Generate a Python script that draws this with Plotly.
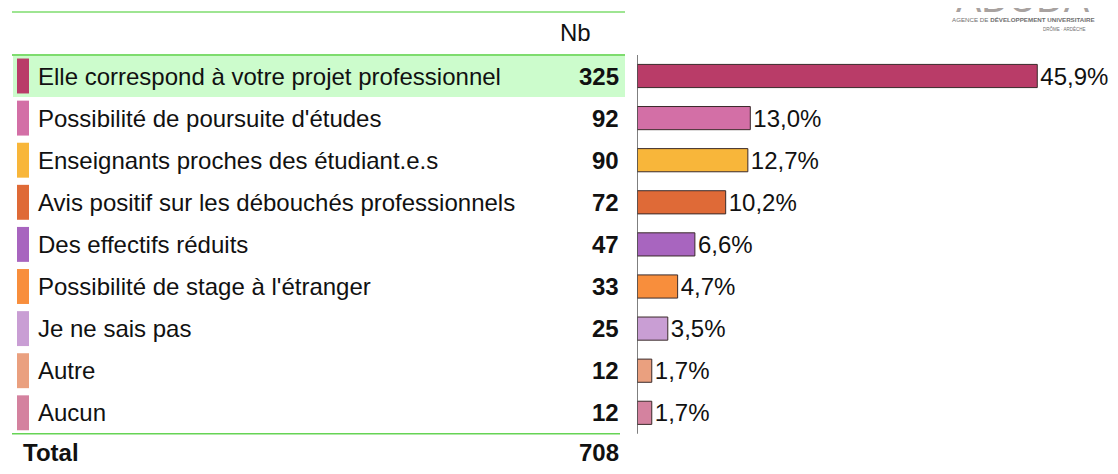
import plotly.graph_objects as go

categories = [
    "Elle correspond à votre projet professionnel",
    "Possibilité de poursuite d'études",
    "Enseignants proches des étudiant.e.s",
    "Avis positif sur les débouchés professionnels",
    "Des effectifs réduits",
    "Possibilité de stage à l'étranger",
    "Je ne sais pas",
    "Autre",
    "Aucun",
]
counts = [325, 92, 90, 72, 47, 33, 25, 12, 12]
total = 708
colors = ["#B93C68", "#D36FA6", "#F8B63A", "#DF6A37", "#A865BF",
          "#F88E3C", "#C99ED4", "#EAA07F", "#D4829F"]
pct = [c / total * 100 for c in counts]

OFF = 8  # page body margin
W, H = 1118 - 2 * OFF, 474 - 2 * OFF
FONT = "Arial, Liberation Sans, Helvetica, sans-serif"
FS = 24
row0, step = 76 - OFF, 42.1

def px(x):
    return (x - OFF) / W

def py(y):
    return 1 - (y - OFF) / H

y_lo = (H - row0) / step
y_hi = -row0 / step
bar_x0 = 637
scale = 8.72

fig = go.Figure()
fig.add_trace(go.Bar(
    x=pct, y=categories, orientation="h",
    marker=dict(color=colors, line=dict(color="#3a2a2a", width=1)),
    width=0.55,
    text=pct, texttemplate="%{x:.1f}%", textposition="outside",
    constraintext="none",
    textfont=dict(family=FONT, size=FS, color="#111"),
    cliponaxis=False, hoverinfo="skip", xaxis="x", yaxis="y",
))
# colour keys on the left
fig.add_trace(go.Bar(
    x=[1] * len(categories), y=categories, orientation="h",
    marker=dict(color=colors, line=dict(width=0)), width=0.83,
    hoverinfo="skip", xaxis="x2", yaxis="y",
))

fig.update_layout(
    width=W, height=H, margin=dict(l=0, r=0, t=0, b=0),
    paper_bgcolor="white", plot_bgcolor="rgba(0,0,0,0)",
    showlegend=False, separators=", ",
    font=dict(family=FONT, size=FS, color="#111"),
    xaxis=dict(domain=[px(bar_x0), 1], range=[0, (1110 - bar_x0) / scale],
               visible=False, fixedrange=True),
    xaxis2=dict(domain=[px(17), px(29)], range=[0, 1], visible=False),
    yaxis=dict(range=[y_lo, y_hi], visible=False, categoryorder="array",
               categoryarray=categories),
)

shapes = [
    dict(type="rect", xref="paper", yref="y", x0=px(13), x1=px(625),
         y0=-0.5, y1=0.5, fillcolor="#CCFCCC", line_width=0, layer="below"),
    dict(type="line", xref="paper", yref="paper", x0=px(6), x1=px(6),
         y0=0, y1=1, line=dict(color="#D8D8D8", width=2)),
    dict(type="line", xref="paper", yref="paper", x0=px(12), x1=px(625),
         y0=py(12), y1=py(12), line=dict(color="#7EDC6E", width=1.5)),
    dict(type="line", xref="paper", yref="y", x0=px(12), x1=px(625),
         y0=-0.5, y1=-0.5, line=dict(color="#7EDC6E", width=2)),
    dict(type="line", xref="paper", yref="y", x0=px(12), x1=px(620),
         y0=8.5, y1=8.5, line=dict(color="#66D455", width=1.5)),
    dict(type="line", xref="x", yref="y", x0=0, x1=0,
         y0=-0.5, y1=8.5, line=dict(color="#555", width=1.5)),
]
fig.update_layout(shapes=shapes)

ann = []
for cat, c in zip(categories, counts):
    ann.append(dict(x=px(36), y=cat, xref="paper", yref="y", text=cat,
                    showarrow=False, xanchor="left", yanchor="middle",
                    font=dict(size=FS, color="#111")))
    ann.append(dict(x=px(621), y=cat, xref="paper", yref="y",
                    text=f"<b>{c}</b>", showarrow=False, xanchor="right",
                    yanchor="middle", font=dict(size=FS, color="#111")))
ann.append(dict(x=px(575), y=py(33), xref="paper", yref="paper", text="Nb",
                showarrow=False, xanchor="center", yanchor="middle",
                font=dict(size=FS, color="#111")))
ann.append(dict(x=px(21), y=py(452), xref="paper", yref="paper",
                text="<b>Total</b>", showarrow=False, xanchor="left",
                yanchor="middle", font=dict(size=FS, color="#111")))
ann.append(dict(x=px(621), y=py(452), xref="paper", yref="paper",
                text=f"<b>{total}</b>", showarrow=False, xanchor="right",
                yanchor="middle", font=dict(size=FS, color="#111")))
# logo (partially cut off at top, as in the reference)
ann.append(dict(x=px(1023), y=py(14), xref="paper", yref="paper",
                text="ADUDA", showarrow=False, xanchor="center",
                yanchor="bottom", yshift=-8,
                font=dict(size=38, color="#A8A2A0")))
ann.append(dict(x=px(1023), y=py(19), xref="paper", yref="paper",
                text="AGENCE DE <b>DÉVELOPPEMENT UNIVERSITAIRE</b>",
                showarrow=False, xanchor="center", yanchor="middle",
                font=dict(size=6.2, color="#707070")))
ann.append(dict(x=px(1064), y=py(29), xref="paper", yref="paper",
                text="DRÔME · ARDÈCHE", showarrow=False, xanchor="center",
                yanchor="middle", font=dict(size=4.5, color="#707070")))
fig.update_layout(annotations=ann)

fig.write_html("out.html")
